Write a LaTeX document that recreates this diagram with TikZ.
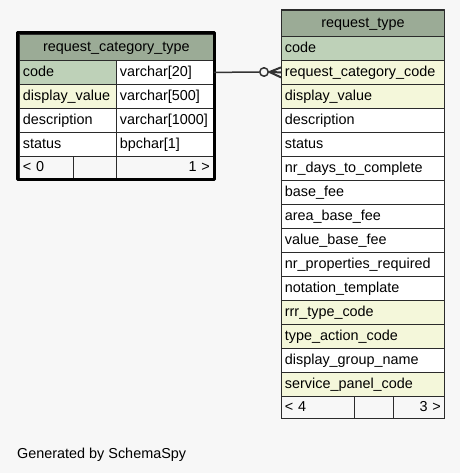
\documentclass[tikz,border=0pt]{standalone}
\usepackage{fontspec}
\setmainfont{Liberation Sans}
\usetikzlibrary{shapes}

\definecolor{bggrey}{HTML}{F7F7F7}
\definecolor{hdrgreen}{HTML}{9BAB96}
\definecolor{pkgreen}{HTML}{BED1B8}
\definecolor{fkyellow}{HTML}{F4F7DA}
\definecolor{cellline}{HTML}{2B2B2B}
\definecolor{linkgrey}{HTML}{333333}
\newcommand\tabfont{\fontsize{14.4bp}{16bp}\selectfont}

\tikzset{
  cell/.style={draw=cellline, line width=0.8bp, anchor=north west, inner xsep=3.5bp,
    inner ysep=0bp, minimum height=24bp, text height=10.5bp, text depth=3bp,
    font=\tabfont, align=left},
  hdr/.style={cell, fill=hdrgreen, minimum height=26bp, align=center},
  pk/.style={cell, fill=pkgreen},
  fk/.style={cell, fill=fkyellow},
  plain/.style={cell, fill=white},
  foot/.style={cell, fill=bggrey, minimum height=22bp},
}

\begin{document}
\begin{tikzpicture}[x=1bp,y=-1bp,line join=bevel]
\fill [bggrey] (0,0) rectangle (460,473);
\useasboundingbox (0,0) rectangle (460,473);
%% request_category_type
\node (rct_head) at (19,34) [hdr, text width=187bp] {request\_category\_type};
\node (rct_code) at (19,60) [pk, text width=90bp] {code};
\node (rct_code_type) at (116,60) [plain, text width=90bp] {varchar[20]};
\node (rct_disp) at (19,84) [fk, text width=90bp] {display\_value};
\node (rct_disp_type) at (116,84) [plain, text width=90bp] {varchar[500]};
\node (rct_desc) at (19,108) [plain, text width=90bp] {description};
\node (rct_desc_type) at (116,108) [plain, text width=90bp] {varchar[1000]};
\node (rct_stat) at (19,132) [plain, text width=90bp] {status};
\node (rct_stat_type) at (116,132) [plain, text width=90bp] {bpchar[1]};
\node (rct_foot_l) at (19,156) [foot, text width=47bp] {< 0};
\node (rct_foot_m) at (73,156) [foot, text width=36bp] {};
\node (rct_foot_r) at (116,156) [foot, text width=90bp, align=right] {1 >};
\draw [black, line width=3bp] (17.5,32.5) rectangle (214.5,179.5);
%% request_type
\node (rt_head) at (281,10) [hdr, text width=156bp] {request\_type};
\node (rt_code) at (281,36) [pk, text width=156bp] {code};
\node (rt_catcode) at (281,60) [fk, text width=156bp] {request\_category\_code};
\node (rt_disp) at (281,84) [fk, text width=156bp] {display\_value};
\node (rt_desc) at (281,108) [plain, text width=156bp] {description};
\node (rt_stat) at (281,132) [plain, text width=156bp] {status};
\node (rt_days) at (281,156) [plain, text width=156bp] {nr\_days\_to\_complete};
\node (rt_fee) at (281,180) [plain, text width=156bp] {base\_fee};
\node (rt_areafee) at (281,204) [plain, text width=156bp] {area\_base\_fee};
\node (rt_valfee) at (281,228) [plain, text width=156bp] {value\_base\_fee};
\node (rt_props) at (281,252) [plain, text width=156bp] {nr\_properties\_required};
\node (rt_notation) at (281,276) [plain, text width=156bp] {notation\_template};
\node (rt_rrr) at (281,300) [fk, text width=156bp] {rrr\_type\_code};
\node (rt_action) at (281,324) [fk, text width=156bp] {type\_action\_code};
\node (rt_group) at (281,348) [plain, text width=156bp] {display\_group\_name};
\node (rt_panel) at (281,372) [fk, text width=156bp] {service\_panel\_code};
\node (rt_foot_l) at (281,396) [foot, text width=66bp] {< 4};
\node (rt_foot_m) at (354,396) [foot, text width=32bp] {};
\node (rt_foot_r) at (393,396) [foot, text width=44bp, align=right] {3 >};
\draw [cellline, line width=1bp] (281,10) rectangle (444,418);
%% relation
\node (rel_dot) at (264,72) [circle, draw=linkgrey, fill=bggrey, line width=1.5bp, inner sep=0pt, minimum size=8.5bp] {};
\coordinate (crow_tip) at (269.5,72);
\draw [linkgrey, line width=1.5bp] (rct_code_type.east) -- (rel_dot);
\draw [linkgrey, line width=2bp] (crow_tip) -- (rt_catcode.west);
\draw [linkgrey, line width=2bp] (crow_tip) -- ([yshift=5bp]rt_catcode.west);
\draw [linkgrey, line width=2bp] (crow_tip) -- ([yshift=-5bp]rt_catcode.west);
%
\node (gen_note) at (17,458) [anchor=base west, inner sep=0pt, font=\tabfont] {Generated by SchemaSpy};
\end{tikzpicture}
\end{document}
